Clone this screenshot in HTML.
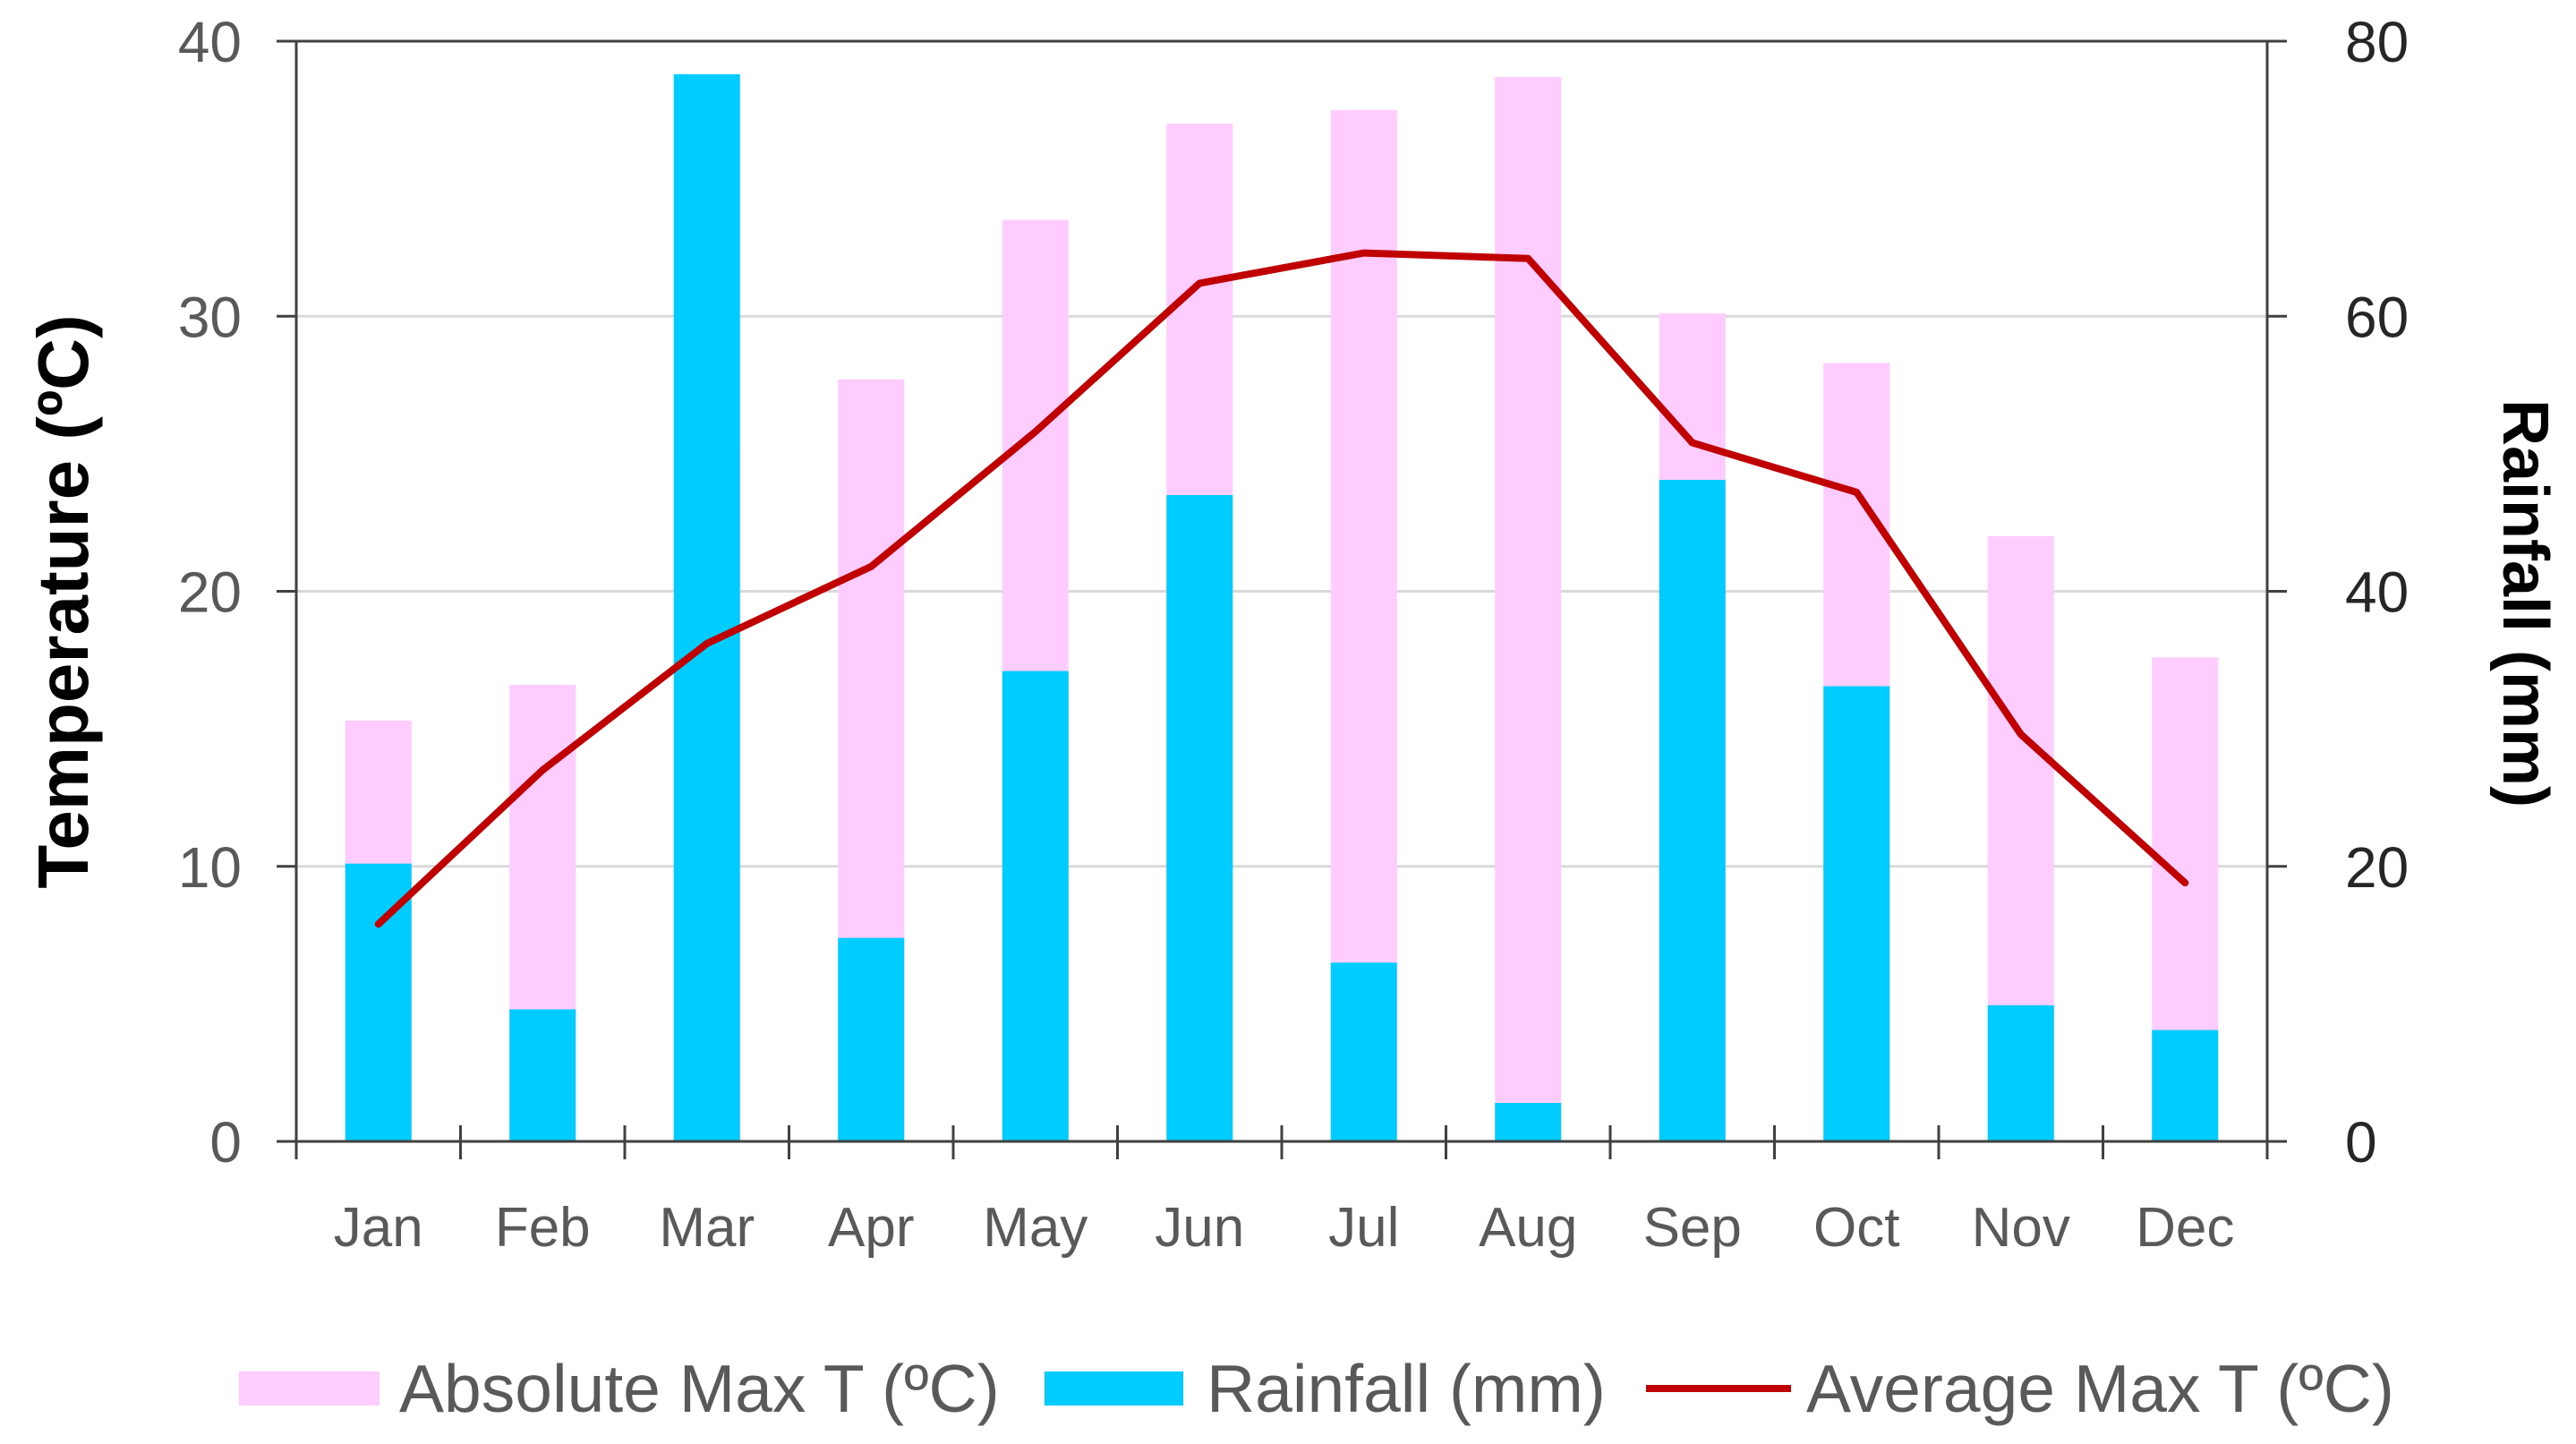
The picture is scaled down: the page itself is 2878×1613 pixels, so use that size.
<!DOCTYPE html>
<html><head><meta charset="utf-8"><style>
html,body{margin:0;padding:0;background:#fff;}
svg{display:block;font-family:"Liberation Sans",sans-serif;}
</style></head><body>
<svg id="chart" width="2878" height="1613" viewBox="0 0 2878 1613" xmlns="http://www.w3.org/2000/svg">
<g id="grid"></g>
<g id="bars"></g>
<g id="axes"></g>
<g id="line"></g>
<text transform="translate(98,672) rotate(-90)" text-anchor="middle" font-size="80" font-weight="bold" fill="#000">Temperature (ºC)</text>
<text transform="translate(2797,674) rotate(90)" text-anchor="middle" font-size="72" font-weight="bold" fill="#000">Rainfall (mm)</text>
<g font-size="75" fill="#595959">
<rect x="267" y="1532" width="157" height="38" fill="#ffccff"/>
<text x="446" y="1577">Absolute Max T (ºC)</text>
<rect x="1167" y="1532" width="155" height="38" fill="#00ccff"/>
<text x="1348" y="1577">Rainfall (mm)</text>
<line x1="1839" y1="1551" x2="2001" y2="1551" stroke="#c00000" stroke-width="8"/>
<text x="2018" y="1577">Average Max T (ºC)</text>
</g>
</svg>
<script>
const months = ["Jan","Feb","Mar","Apr","May","Jun","Jul","Aug","Sep","Oct","Nov","Dec"];
const absMaxT = [15.3,16.6,25,27.7,33.5,37,37.5,38.7,30.1,28.3,22,17.6];
const rainfall = [20.2,9.6,77.6,14.8,34.2,47,13,2.8,48.1,33.1,9.9,8.1];
const avgMaxT = [7.9,13.5,18.1,20.9,25.8,31.2,32.3,32.1,25.4,23.6,14.8,9.4];
const leftTicks = [0,10,20,30,40];
const rightTicks = [0,20,40,60,80];

const NS="http://www.w3.org/2000/svg";
const L=331,R=2533,T=46,B=1275;
const cw=(R-L)/months.length, bw=74;
function yT(v){return B-(v/40)*(B-T);}
function yR(v){return B-(v/80)*(B-T);}
function xC(i){return L+cw*(i+0.5);}
function mk(tag,attrs,parent){const e=document.createElementNS(NS,tag);for(const k in attrs)e.setAttribute(k,attrs[k]);parent.appendChild(e);return e;}
const grid=document.getElementById('grid'),bars=document.getElementById('bars'),axes=document.getElementById('axes'),line=document.getElementById('line');

leftTicks.forEach((v,i)=>{
  if(v>0&&v<40){const g=mk('line',{x1:L,x2:R,y1:yT(v),y2:yT(v),stroke:'#d9d9d9','stroke-width':3},grid);
  
  }
  const t=mk('text',{x:270,y:yT(v)+23,'text-anchor':'end','font-size':64,fill:'#595959'},axes);
  t.textContent=v;
  
  
  const tk=mk('line',{x1:L-22,x2:L,y1:yT(v),y2:yT(v),stroke:'#404040','stroke-width':3},axes);
  
  
});
rightTicks.forEach(v=>{
  const t=mk('text',{x:2620,y:yR(v)+23,'text-anchor':'start','font-size':64,fill:'#262626'},axes);
  t.textContent=v;
  
  
  const tk=mk('line',{x1:R,x2:R+22,y1:yR(v),y2:yR(v),stroke:'#404040','stroke-width':3},axes);
  
  
});
months.forEach((m,i)=>{
  const a=mk('rect',{x:xC(i)-bw/2,y:yT(absMaxT[i]),width:bw,height:B-yT(absMaxT[i]),fill:'#ffccff'},bars);
  
  
  const r=mk('rect',{x:xC(i)-bw/2,y:yR(rainfall[i]),width:bw,height:B-yR(rainfall[i]),fill:'#00ccff'},bars);
  
  
  const t=mk('text',{x:xC(i),y:1392,'text-anchor':'middle','font-size':62,fill:'#595959'},axes);
  t.textContent=m;
  
  
});
for(let i=0;i<=months.length;i++){
  const x=L+cw*i;
  const tk=mk('line',{x1:x,x2:x,y1:B-18,y2:B+20,stroke:'#404040','stroke-width':3},axes);
  
  
}
const ax=[['x-axis',L-22,B,R+22,B],['top-border',L,T,R,T],['y-axis-left',L,T,L,B+20],['y-axis-right',R,T,R,B+20]];
ax.forEach(a=>{const e=mk('line',{x1:a[1],y1:a[2],x2:a[3],y2:a[4],stroke:'#404040','stroke-width':3},axes);
  
  });
const pts=avgMaxT.map((v,i)=>xC(i)+','+yT(v)).join(' ');
const pl=mk('polyline',{points:pts,fill:'none',stroke:'#c00000','stroke-width':8,'stroke-linejoin':'round','stroke-linecap':'round'},line);


</script>
</body></html>
